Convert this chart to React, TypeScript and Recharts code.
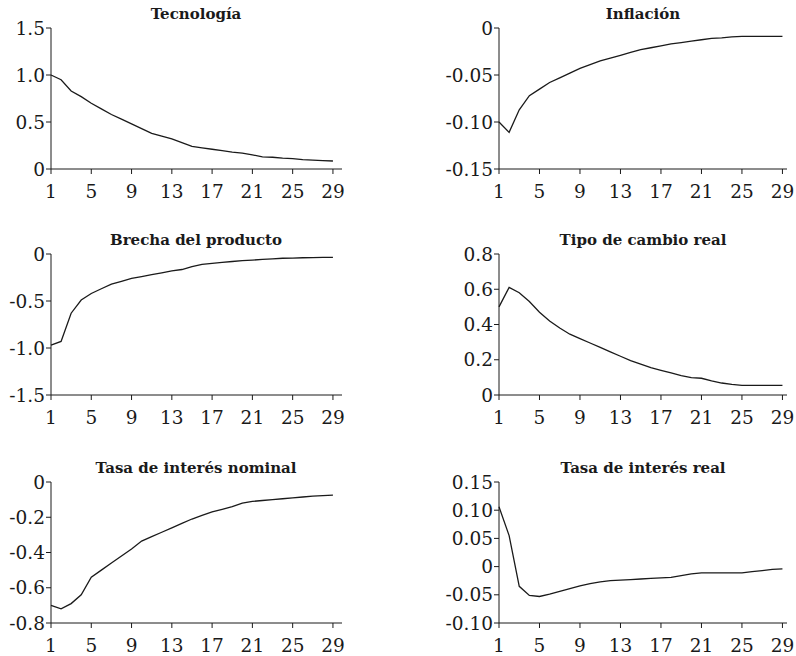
import React from 'react';
import { LineChart, Line, XAxis, YAxis } from 'recharts';

// quarters after the shock
const periods = [1, 2, 3, 4, 5, 6, 7, 8, 9, 10, 11, 12, 13, 14, 15, 16, 17, 18, 19, 20, 21, 22, 23, 24, 25, 26, 27, 28, 29];
const xTicks = [1, 5, 9, 13, 17, 21, 25, 29];

const tecnologia = [1.0, 0.95, 0.83, 0.77, 0.7, 0.64, 0.58, 0.53, 0.48, 0.43, 0.38, 0.35, 0.32, 0.28, 0.24, 0.225, 0.21, 0.195, 0.18, 0.17, 0.15, 0.13, 0.125, 0.115, 0.11, 0.1, 0.095, 0.09, 0.085];
const inflacion = [-0.1, -0.111, -0.087, -0.072, -0.065, -0.058, -0.053, -0.048, -0.043, -0.039, -0.035, -0.032, -0.029, -0.026, -0.023, -0.021, -0.019, -0.017, -0.0155, -0.014, -0.0125, -0.011, -0.0105, -0.0095, -0.009, -0.009, -0.009, -0.009, -0.009];
const brecha = [-0.97, -0.93, -0.63, -0.49, -0.42, -0.37, -0.32, -0.29, -0.26, -0.24, -0.22, -0.2, -0.18, -0.165, -0.135, -0.11, -0.1, -0.09, -0.08, -0.07, -0.065, -0.058, -0.052, -0.045, -0.043, -0.04, -0.038, -0.036, -0.035];
const tipoCambio = [0.5, 0.61, 0.58, 0.53, 0.47, 0.42, 0.38, 0.345, 0.32, 0.295, 0.27, 0.245, 0.22, 0.195, 0.175, 0.155, 0.14, 0.125, 0.11, 0.098, 0.095, 0.08, 0.068, 0.06, 0.055, 0.055, 0.055, 0.055, 0.055];
const tasaNominal = [-0.7, -0.72, -0.69, -0.64, -0.54, -0.5, -0.46, -0.42, -0.38, -0.335, -0.31, -0.285, -0.26, -0.235, -0.21, -0.19, -0.17, -0.155, -0.14, -0.12, -0.11, -0.105, -0.1, -0.095, -0.09, -0.085, -0.08, -0.077, -0.075];
const tasaReal = [0.106, 0.055, -0.035, -0.051, -0.053, -0.049, -0.044, -0.039, -0.034, -0.03, -0.027, -0.025, -0.024, -0.023, -0.022, -0.021, -0.02, -0.019, -0.016, -0.013, -0.011, -0.011, -0.011, -0.011, -0.011, -0.009, -0.007, -0.005, -0.004];

const panels = [
  { title: 'Tecnología', values: tecnologia, domain: [0, 1.5], ticks: [0, 0.5, 1, 1.5], digits: 1 },
  { title: 'Inflación', values: inflacion, domain: [-0.15, 0], ticks: [-0.15, -0.1, -0.05, 0], digits: 2 },
  { title: 'Brecha del producto', values: brecha, domain: [-1.5, 0], ticks: [-1.5, -1, -0.5, 0], digits: 1 },
  { title: 'Tipo de cambio real', values: tipoCambio, domain: [0, 0.8], ticks: [0, 0.2, 0.4, 0.6, 0.8], digits: 1 },
  { title: 'Tasa de interés nominal', values: tasaNominal, domain: [-0.8, 0], ticks: [-0.8, -0.6, -0.4, -0.2, 0], digits: 1 },
  { title: 'Tasa de interés real', values: tasaReal, domain: [-0.1, 0.15], ticks: [-0.1, -0.05, 0, 0.05, 0.1, 0.15], digits: 2 },
];

const INK = '#1a1a1a';
const tickFont = { fontFamily: 'DejaVu Serif', fontSize: 18.5, fill: INK };
// top of each row's plot area
const plotTops = [28, 254, 482];
const titleBase = [18.5, 244.5, 472.5];

export default function App() {
  return (
    <div style={{ position: 'absolute', left: 0, top: 0, width: 796, height: 656, background: '#fff', overflow: 'hidden' }}>
      {panels.map((p, i) => {
        const col = i % 2;
        const row = Math.floor(i / 2);
        const data = periods.map((t, k) => ({ t, v: p.values[k] }));
        const left = col === 0 ? 0 : 440;
        const width = col === 0 ? 360 : 356;
        const yw = col === 0 ? 51 : 59;
        return (
          <div key={p.title} style={{ position: 'absolute', left, top: plotTops[row] - 10 }}>
            <LineChart width={width} height={184} data={data} margin={{ top: 10, right: col === 0 ? 18 : 9, left: 0, bottom: 0 }}>
              <XAxis
                dataKey="t"
                type="number"
                domain={col === 0 ? [1, 29.9] : [1, 29.45]}
                ticks={xTicks}
                interval={0}
                height={33}
                tick={tickFont}
                tickSize={5}
                tickMargin={11}
                axisLine={{ stroke: INK }}
                tickLine={{ stroke: INK }}
              />
              <YAxis
                type="number"
                domain={p.domain}
                ticks={p.ticks}
                interval={0}
                width={yw}
                tick={tickFont}
                tickSize={5}
                tickMargin={1}
                axisLine={{ stroke: INK }}
                tickLine={{ stroke: INK }}
                tickFormatter={(v: number) => (Math.abs(v) < 1e-9 ? '0' : v.toFixed(p.digits))}
              />
              <Line type="linear" dataKey="v" stroke={INK} strokeWidth={1.3} dot={false} isAnimationActive={false} />
            </LineChart>
          </div>
        );
      })}
      <svg width={796} height={656} style={{ position: 'absolute', left: 0, top: 0, pointerEvents: 'none' }}>
        {panels.map((p, i) => (
          <text
            key={p.title}
            x={i % 2 === 0 ? 196 : 643}
            y={titleBase[Math.floor(i / 2)]}
            textAnchor="middle"
            fontFamily="DejaVu Serif"
            fontWeight="bold"
            fontSize={15}
            fill={INK}
          >
            {p.title}
          </text>
        ))}
      </svg>
    </div>
  );
}
